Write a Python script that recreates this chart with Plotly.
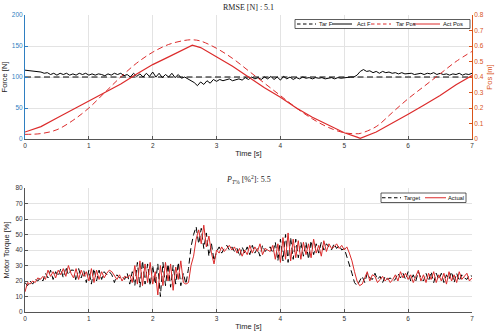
import numpy as np
import plotly.graph_objects as go

# ---------------- data ----------------
tar_force_value = 100.0
act_force = [111, 110.5, 110, 109, 108.5, 108, 106, 107, 104, 106, 103, 106, 104, 106, 103, 105, 103, 106, 104, 106,
             103, 105, 103, 105, 104, 102, 105, 103, 106, 104, 106, 102, 104, 100, 106, 101, 105, 100, 106, 101,
             108, 100, 106, 99, 104, 100, 106, 99, 104, 98, 100, 97, 93, 91, 86, 92, 88, 94, 90, 96,
             93, 96, 94, 95, 97, 94, 96, 97, 95, 99, 96, 100, 97, 99, 96, 100, 97, 101, 96, 100,
             95, 101, 97, 100, 96, 99, 97, 100, 98, 99, 97, 99, 98, 99, 97, 98, 99, 97, 99, 98,
             99, 99, 100, 100, 103, 109, 112, 109, 110, 107, 109, 106, 109, 107, 108, 106, 107, 105, 107, 105,
             105, 106, 104, 105, 106, 104, 106, 105, 107, 104, 106, 104, 105, 103, 105, 104, 106, 103, 105, 104, 106]

pos_time = [0, 0.25, 0.5, 0.75, 1.0, 1.25, 1.5, 1.75, 2.0, 2.25, 2.5, 2.62, 2.75, 3.0, 3.25, 3.5, 3.75,
            4.0, 4.25, 4.5, 4.75, 5.0, 5.2, 5.25, 5.5, 5.75, 6.0, 6.25, 6.5, 6.75, 7.0]
tar_pos = [0.03, 0.035, 0.06, 0.12, 0.2, 0.3, 0.4, 0.49, 0.56, 0.61, 0.636, 0.64, 0.632, 0.585, 0.52, 0.44, 0.36,
           0.28, 0.2, 0.13, 0.075, 0.04, 0.034, 0.036, 0.08, 0.17, 0.26, 0.34, 0.42, 0.5, 0.565]
act_pos = [0.045, 0.08, 0.135, 0.19, 0.25, 0.3, 0.355, 0.42, 0.48, 0.53, 0.58, 0.605, 0.59, 0.53, 0.47, 0.4, 0.33,
           0.27, 0.2, 0.14, 0.09, 0.04, 0.012, 0.004, 0.045, 0.1, 0.16, 0.22, 0.28, 0.35, 0.41]

torque_actual = (
    [13, 19, 18, 20, 19, 22, 21, 23]
    + [21, 27, 23, 26, 22, 27, 24, 28, 23, 30, 25]
    + [22, 28, 21, 27, 23, 26, 20, 28, 19, 27, 21, 26, 22, 25, 27, 26]
    + [23, 21, 24, 20, 23, 22, 24, 19]
    + [30, 18, 33, 17, 31, 19, 32, 18, 26, 11, 30, 17, 32, 20, 31, 14, 29, 21, 33, 19]
    + [18, 19, 30, 36]
    + [47, 53, 44, 56, 42, 49, 38, 31]
    + [40, 38, 42, 39, 41, 43, 40, 42, 38, 41, 36, 40, 37, 43, 38, 42, 39, 44, 37, 41, 40, 39, 43]
    + [34, 44, 32, 48, 34, 51, 33, 47, 35, 46, 34, 45, 37, 44, 35, 47, 38, 43, 36, 46, 39, 44, 41]
    + [42, 44, 41, 43, 40, 42, 38]
    + [33, 26, 20, 17, 18]
    + [22, 26, 20, 24, 23, 19, 21, 23, 20, 22, 19, 21, 24, 20, 26, 22, 25, 21, 24, 19, 23, 27, 20, 24, 19,
       25, 21, 26, 19, 24, 20, 25, 18, 26, 20, 24, 19, 26, 21, 23, 25, 20, 22]
)
torque_target = (
    [19, 17, 20, 18, 21, 20, 22, 20]
    + [25, 22, 27, 21, 26, 23, 28, 22, 29, 24, 27]
    + [27, 20, 28, 22, 27, 19, 27, 18, 28, 20, 27, 21, 26, 24, 26, 24]
    + [19, 24, 22, 23, 21, 25, 18, 26]
    + [17, 32, 16, 33, 18, 31, 17, 30, 18, 31, 10, 32, 17, 31, 16, 30, 18, 32, 17, 25]
    + [18, 28, 42, 50]
    + [55, 44, 54, 41, 51, 36, 44, 33]
    + [39, 42, 38, 41, 43, 40, 42, 39, 41, 36, 42, 38, 42, 37, 43, 38, 41, 36, 43, 39, 41, 42, 38]
    + [45, 33, 47, 33, 50, 32, 48, 34, 47, 35, 45, 36, 45, 34, 46, 37, 44, 38, 45, 40, 44, 42, 40]
    + [44, 41, 43, 40, 41, 36, 30]
    + [25, 19, 17, 20, 23]
    + [19, 25, 22, 21, 25, 21, 23, 19, 23, 21, 22, 20, 21, 25, 22, 25, 21, 26, 20, 24, 20, 26, 22, 20, 25,
       20, 26, 19, 25, 21, 25, 19, 24, 21, 26, 19, 25, 20, 24, 22, 21, 24, 23]
)

rmse_force = 5.1
p_torque = 5.5

top_names = ["Tar F", "Act F", "Tar Pos", "Act Pos"]
bottom_names = ["Target", "Actual"]

# ---------------- styling / layout ----------------
W, H = 500, 334
ML, MR, MT, MB = 25, 28, 15, 22
PW, PH = W - ML - MR, H - MT - MB

RED = "#dc2b2b"
BLUE = "#2f7fc1"
ORANGE = "#d95319"
GRID = "#e3e3e3"
TICK = "#333333"
FONT = "Liberation Sans, Arial, sans-serif"
SERIF = "Liberation Serif, Times New Roman, serif"
TICK_SIZE = 6.5
LABEL_SIZE = 7.5
LEGEND_SIZE = 5.8
TITLE_SIZE = 8
DASH = "6px,3.5px"
KEY_DASH = "3.5px,2.5px"


def px_x(px):
    return (px - ML) / PW


def px_y(py):
    return (H - MB - py) / PH


t_force = np.linspace(0, 7, len(act_force))
t_torque = np.linspace(0, 7, len(torque_actual))
t_target = np.linspace(0, 7, len(torque_target))

fig = go.Figure()

fig.add_trace(go.Scatter(x=[0, 7], y=[tar_force_value, tar_force_value], mode="lines", name=top_names[0],
                         line=dict(color="black", width=1, dash=DASH), xaxis="x", yaxis="y"))
fig.add_trace(go.Scatter(x=t_force, y=act_force, mode="lines", name=top_names[1],
                         line=dict(color="black", width=1), xaxis="x", yaxis="y"))
fig.add_trace(go.Scatter(x=pos_time, y=tar_pos, mode="lines", name=top_names[2], line_shape="spline",
                         line=dict(color=RED, width=1, dash=DASH), xaxis="x", yaxis="y2"))
fig.add_trace(go.Scatter(x=pos_time, y=act_pos, mode="lines", name=top_names[3],
                         line=dict(color=RED, width=1.2), xaxis="x", yaxis="y2"))

fig.add_trace(go.Scatter(x=t_target, y=torque_target, mode="lines", name=bottom_names[0],
                         line=dict(color="black", width=1, dash=DASH), xaxis="x2", yaxis="y3"))
fig.add_trace(go.Scatter(x=t_torque, y=torque_actual, mode="lines", name=bottom_names[1],
                         line=dict(color=RED, width=1), xaxis="x2", yaxis="y3"))

top_dom = [px_y(139), 1.0]
bot_dom = [0.0, px_y(188)]

xcommon = dict(range=[0, 7], dtick=1, showgrid=True, gridcolor=GRID, gridwidth=1, zeroline=False,
               showline=True, linecolor="#555", linewidth=1, ticks="inside", ticklen=3, tickcolor="#555",
               tickfont=dict(size=TICK_SIZE, color=TICK, family=FONT), mirror=False, automargin=False)

# compact MATLAB-style legends (box + key lines + labels), placed in pixels
shapes, annotations = [], []


def add_legend(box, entries):
    x0, y0, x1, y1 = box
    shapes.append(dict(type="rect", xref="paper", yref="paper", x0=px_x(x0), x1=px_x(x1),
                       y0=px_y(y1), y1=px_y(y0), fillcolor="white", line=dict(color="#333", width=0.8),
                       layer="above"))
    yc = (y0 + y1) / 2
    for name, color, dash, lx0, lx1, tx in entries:
        shapes.append(dict(type="line", xref="paper", yref="paper", x0=px_x(lx0), x1=px_x(lx1),
                           y0=px_y(yc), y1=px_y(yc), line=dict(color=color, width=1, dash=dash),
                           layer="above"))
        annotations.append(dict(text=name, x=px_x(tx), y=px_y(yc), xref="paper", yref="paper",
                                xanchor="left", yanchor="middle", showarrow=False, borderpad=0,
                                font=dict(size=LEGEND_SIZE, color="#111", family=FONT)))


add_legend((295, 19.5, 470, 28.5), [
    (top_names[0], "black", KEY_DASH, 297, 316, 317.5),
    (top_names[1], "black", "solid", 332, 352, 356),
    (top_names[2], RED, KEY_DASH, 371, 391, 395),
    (top_names[3], RED, "solid", 413, 440, 441.5),
])
add_legend((381, 193, 466, 202.5), [
    (bottom_names[0], "black", KEY_DASH, 382, 401, 402.5),
    (bottom_names[1], RED, "solid", 425, 446, 447),
])

annotations += [
    dict(text=f"RMSE [N] : {rmse_force}", x=0.5, y=1.0, xref="paper", yref="paper",
         xanchor="center", yanchor="bottom", yshift=1, showarrow=False,
         font=dict(size=TITLE_SIZE, color="#222", family=SERIF)),
    dict(text=f"<i>P</i><sub><i>T</i>%</sub> [%<sup>2</sup>]: {p_torque}", x=0.5, y=bot_dom[1],
         xref="paper", yref="paper", xanchor="center", yanchor="bottom", yshift=1, showarrow=False,
         font=dict(size=TITLE_SIZE, color="#222", family=SERIF)),
]

fig.update_layout(
    width=W, height=H,
    margin=dict(l=ML, r=MR, t=MT, b=MB, autoexpand=False),
    paper_bgcolor="white", plot_bgcolor="white",
    showlegend=False,
    xaxis=dict(domain=[0, 1], anchor="y", **xcommon,
               title=dict(text="Time [s]", font=dict(size=LABEL_SIZE, color="#222", family=FONT), standoff=2)),
    yaxis=dict(domain=top_dom, range=[0, 200], dtick=50, showgrid=True, gridcolor=GRID, zeroline=False,
               showline=True, linecolor=BLUE, linewidth=1, ticks="inside", ticklen=3, tickcolor=BLUE,
               tickfont=dict(size=TICK_SIZE, color=BLUE, family=FONT), anchor="x", automargin=False,
               title=dict(text="Force [N]", font=dict(size=LABEL_SIZE, color="#222", family=FONT), standoff=4)),
    yaxis2=dict(domain=top_dom, range=[0, 0.8], dtick=0.1, overlaying="y", side="right", anchor="x",
                showgrid=False, zeroline=False, showline=True, linecolor=ORANGE, linewidth=1,
                ticks="inside", ticklen=3, tickcolor=ORANGE, tickformat=".1~f", automargin=False,
                tickfont=dict(size=TICK_SIZE, color=ORANGE, family=FONT),
                title=dict(text="Pos [m]", font=dict(size=LABEL_SIZE, color=ORANGE, family=FONT), standoff=4)),
    xaxis2=dict(domain=[0, 1], anchor="y3", **xcommon,
                title=dict(text="Time [s]", font=dict(size=LABEL_SIZE, color="#222", family=FONT), standoff=2)),
    yaxis3=dict(domain=bot_dom, range=[0, 80], dtick=10, showgrid=True, gridcolor=GRID, zeroline=False,
                showline=True, linecolor="#555", linewidth=1, ticks="inside", ticklen=3, tickcolor="#555",
                tickfont=dict(size=TICK_SIZE, color=TICK, family=FONT), anchor="x2", automargin=False,
                title=dict(text="Motor Torque [%]", font=dict(size=LABEL_SIZE, color="#222", family=FONT),
                           standoff=4)),
    shapes=shapes,
    annotations=annotations,
)

fig.write_html("out.html")
